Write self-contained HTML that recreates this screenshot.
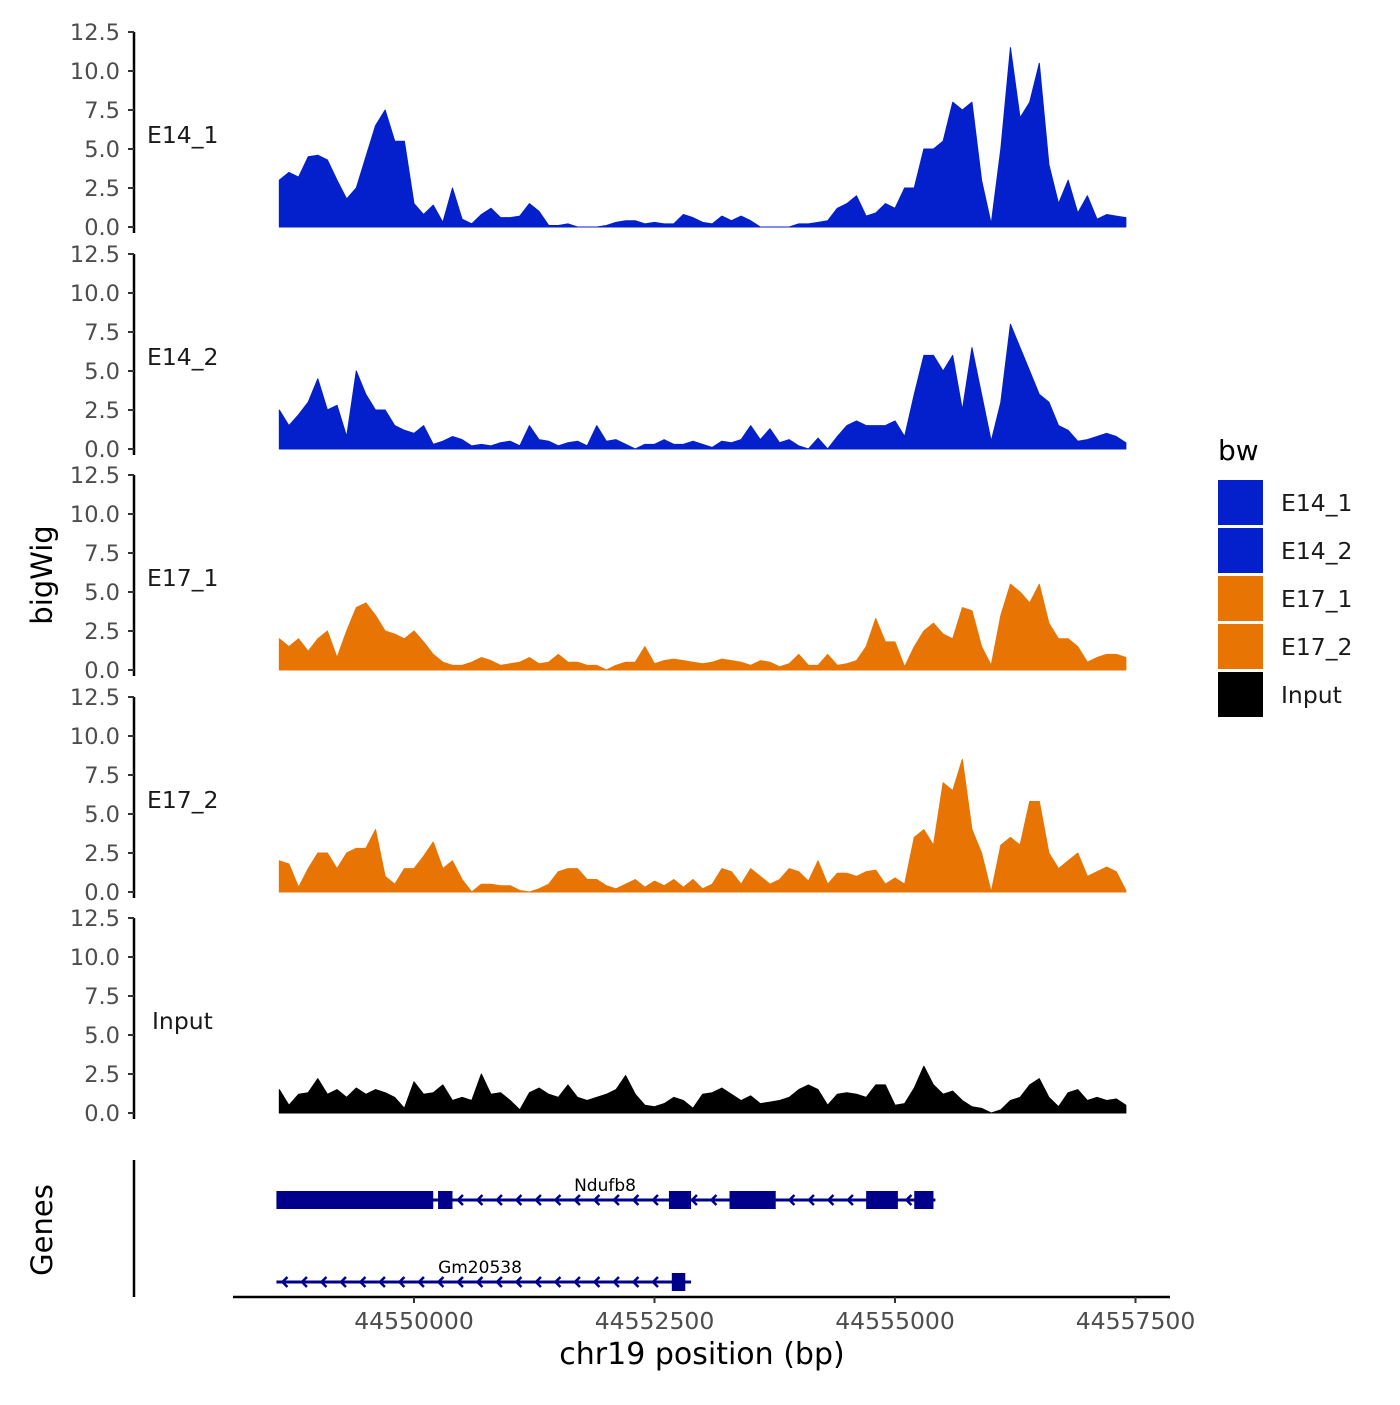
<!DOCTYPE html>
<html><head><meta charset="utf-8"><style>
body{margin:0;background:#fff;}
svg text{font-family:"DejaVu Sans","Liberation Sans",sans-serif;}
</style></head><body>
<svg id="chart" width="1400" height="1400" viewBox="0 0 1400 1400" xmlns="http://www.w3.org/2000/svg"></svg>
<script>
const trackNames = ["E14_1","E14_2","E17_1","E17_2","Input"];
const trackColors = ["#0320cc","#0320cc","#e87503","#e87503","#000000"];
const yTicks = [0,2.5,5,7.5,10,12.5];
const yTickLabels = ["0.0","2.5","5.0","7.5","10.0","12.5"];
const xTicks = [44550000,44552500,44555000,44557500];
const startBp = 44548600, stepBp = 100;
const e14_1 = [3.0,3.5,3.2,4.5,4.6,4.3,3.0,1.8,2.5,4.5,6.5,7.5,5.5,5.5,1.5,0.8,1.4,0.3,2.5,0.5,0.2,0.8,1.2,0.6,0.6,0.7,1.5,1.0,0.1,0.1,0.2,0,0,0,0.1,0.3,0.4,0.4,0.2,0.3,0.2,0.2,0.8,0.6,0.3,0.2,0.7,0.4,0.7,0.4,0,0,0,0,0.2,0.2,0.3,0.4,1.2,1.5,2.0,0.7,0.9,1.5,1.2,2.5,2.5,5.0,5.0,5.5,8.0,7.5,8.0,3.0,0.2,5.0,11.5,7.0,8.0,10.5,4.0,1.5,3.0,0.9,2.0,0.5,0.8,0.7,0.6];
const e14_2 = [2.5,1.5,2.2,3.0,4.5,2.5,2.8,0.8,5.0,3.5,2.5,2.5,1.5,1.2,1.0,1.5,0.3,0.5,0.8,0.6,0.2,0.3,0.2,0.4,0.5,0.2,1.5,0.6,0.5,0.2,0.4,0.5,0.2,1.5,0.5,0.6,0.3,0,0.3,0.3,0.6,0.3,0.3,0.5,0.3,0.1,0.5,0.4,0.6,1.5,0.6,1.3,0.4,0.6,0.2,0,0.7,0,0.8,1.5,1.8,1.5,1.5,1.5,1.8,0.8,3.5,6.0,6.0,5.0,6.0,2.5,6.5,3.5,0.5,3.0,8.0,6.5,5.0,3.5,3.0,1.5,1.2,0.5,0.6,0.8,1.0,0.8,0.4];
const e17_1 = [2.0,1.5,2.0,1.2,2.0,2.5,0.8,2.5,4.0,4.3,3.5,2.5,2.3,2.0,2.5,1.8,1.0,0.5,0.3,0.3,0.5,0.8,0.6,0.3,0.4,0.5,0.8,0.4,0.5,1.0,0.5,0.5,0.3,0.3,0,0.3,0.5,0.5,1.5,0.4,0.6,0.7,0.6,0.5,0.4,0.5,0.7,0.6,0.5,0.3,0.6,0.5,0.2,0.4,1.0,0.3,0.3,1.0,0.3,0.4,0.6,1.5,3.3,1.8,1.8,0.2,1.5,2.5,3.0,2.3,2.0,4.0,3.8,1.5,0.3,3.5,5.5,5.0,4.3,5.5,3.0,2.0,2.0,1.5,0.5,0.8,1.0,1.0,0.8];
const e17_2 = [2.0,1.8,0.3,1.5,2.5,2.5,1.5,2.5,2.8,2.8,4.0,1.0,0.5,1.5,1.5,2.3,3.2,1.5,2.0,0.8,0,0.5,0.5,0.4,0.4,0.1,0,0.2,0.5,1.3,1.5,1.5,0.8,0.8,0.4,0.2,0.5,0.8,0.3,0.7,0.4,0.8,0.3,0.8,0.2,0.5,1.5,1.3,0.5,1.5,1.0,0.5,0.8,1.5,1.3,0.7,2.0,0.5,1.2,1.2,1.0,1.3,1.4,0.5,0.9,0.5,3.5,4.0,3.0,7.0,6.5,8.5,4.0,2.5,0,3.0,3.5,3.0,5.8,5.8,2.5,1.5,2.0,2.5,1.0,1.3,1.6,1.3,0.1];
const input = [1.5,0.5,1.2,1.3,2.2,1.2,1.5,1.0,1.6,1.2,1.5,1.3,1.0,0.3,2.0,1.2,1.3,1.8,0.8,1.0,0.8,2.5,1.2,1.3,0.8,0.2,1.3,1.6,1.2,1.0,1.8,1.0,0.8,1.0,1.2,1.5,2.4,1.2,0.5,0.4,0.6,1.0,0.8,0.3,1.2,1.3,1.6,1.2,0.8,1.1,0.6,0.7,0.8,1.0,1.5,1.8,1.5,0.5,1.2,1.3,1.2,1.0,1.8,1.8,0.5,0.6,1.6,3.0,1.8,1.2,1.4,0.8,0.4,0.3,0,0.2,0.8,1.0,1.8,2.2,1.0,0.4,1.3,1.5,0.8,1.0,0.8,0.9,0.5];
const trackData = [e14_1,e14_2,e17_1,e17_2,input];
const geneNames = ["Ndufb8","Gm20538"];
const geneSpans = [[44548570,44555420],[44548570,44552880]];
const ndufb8Exons = [[44548570,44550200],[44550250,44550400],[44552650,44552880],[44553280,44553650],[44553630,44553760],[44554700,44555030],[44555200,44555400]];
const gm20538Exons = [[44552680,44552820]];

const svg = document.getElementById('chart');
const NS = 'http://www.w3.org/2000/svg';
function mk(tag, attrs, parent){const e=document.createElementNS(NS,tag);for(const k in attrs)e.setAttribute(k,attrs[k]);(parent||svg).appendChild(e);return e;}
function xScale(bp){return 414 + (bp-44550000)*240.5/2500;}
const zeroY = [227,449,670,892,1113];
const pxPerUnit = 195/12.5;
function yScale(i,v){return zeroY[i]-v*pxPerUnit;}

trackNames.forEach((name,i)=>{
  const g = mk('g',{});
  
  
  const d = trackData[i];
  let p = 'M'+xScale(startBp)+','+zeroY[i];
  d.forEach((v,j)=>{p+=' L'+xScale(startBp+j*stepBp).toFixed(2)+','+yScale(i,v).toFixed(2);});
  p += ' L'+xScale(startBp+(d.length-1)*stepBp).toFixed(2)+','+zeroY[i]+' Z';
  const area = mk('path',{d:p,fill:trackColors[i],stroke:trackColors[i],'stroke-width':1,'stroke-linejoin':'round'},g);
  
  
  const ax = mk('line',{x1:134,x2:134,y1:yScale(i,12.5),y2:zeroY[i]+6,stroke:'#000','stroke-width':2.5},g);
  
  
  yTicks.forEach((t,k)=>{
    const y=yScale(i,t);
    mk('line',{x1:128,x2:134,y1:y,y2:y,stroke:'#333','stroke-width':2},g);
    const tx = mk('text',{x:120,y:y+8,'text-anchor':'end','font-size':22.5,fill:'#4d4d4d'},g);
    tx.textContent = yTickLabels[k];
    
    
  });
  const lab = mk('text',{x:name==='Input'?152:147,y:zeroY[i]-84,'font-size':23.5,fill:'#1a1a1a'},g);
  lab.textContent = name;
  
  
});

const yt = mk('text',{x:52,y:575,'font-size':29,'text-anchor':'middle',transform:'rotate(-90 52 575)'});
yt.textContent='bigWig';


const gt = mk('text',{x:52,y:1230,'font-size':29,'text-anchor':'middle',transform:'rotate(-90 52 1230)'});
gt.textContent='Genes';


mk('line',{x1:134,x2:134,y1:1160,y2:1297,stroke:'#000','stroke-width':2.5});

const geneY=[1200,1282];
const exonSets=[ndufb8Exons,gm20538Exons];
const gc='#00008b';
geneNames.forEach((gname,i)=>{
  const g=mk('g',{});
  
  
  const x1=xScale(geneSpans[i][0]), x2=xScale(geneSpans[i][1]), y=geneY[i];
  mk('line',{x1:x1,x2:x2,y1:y,y2:y,stroke:gc,'stroke-width':3},g);
  for(let x=x1+6;x<x2;x+=19.5){
    mk('polyline',{points:(x+5)+','+(y-5)+' '+x+','+y+' '+(x+5)+','+(y+5),fill:'none',stroke:gc,'stroke-width':2.5},g);
  }
  exonSets[i].forEach(e=>{
    const ex=mk('rect',{x:xScale(e[0]),y:y-9,width:xScale(e[1])-xScale(e[0]),height:18,fill:gc},g);
    
    
  });
  const t=mk('text',{x:i===0?605:480,y:y-9,'font-size':17,'text-anchor':'middle',fill:'#000'},g);
  t.textContent=gname;
});

mk('line',{x1:233,x2:1170,y1:1297,y2:1297,stroke:'#000','stroke-width':2.5});
xTicks.forEach(t=>{
  const x=xScale(t);
  mk('line',{x1:x,x2:x,y1:1297,y2:1303,stroke:'#333','stroke-width':2});
  const tx=mk('text',{x:x,y:1329,'text-anchor':'middle','font-size':23.5,fill:'#4d4d4d'});
  tx.textContent=String(t);
  
  
});
const xt=mk('text',{x:702,y:1364,'text-anchor':'middle','font-size':30});
xt.textContent='chr19 position (bp)';



const lg=mk('g',{});


const lt=mk('text',{x:1218,y:460,'font-size':28},lg);
lt.textContent='bw';
trackNames.forEach((n,i)=>{
  const y=480+i*48;
  const e=mk('g',{},lg);
  
  
  mk('rect',{x:1218,y:y,width:45,height:45,fill:trackColors[i]},e);
  const t=mk('text',{x:1281,y:y+31,'font-size':23.5,fill:'#1a1a1a'},e);
  t.textContent=n;
});
</script>
</body></html>
